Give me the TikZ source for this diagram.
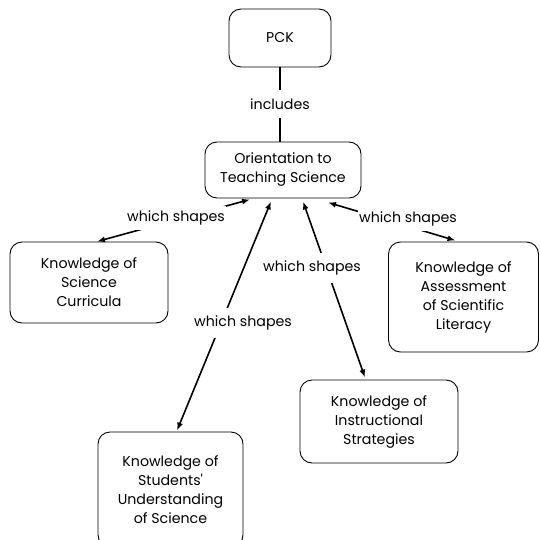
\documentclass[tikz,border=0pt]{standalone}
\usepackage{fontspec}
\setmainfont{Poppins}
\usetikzlibrary{arrows.meta,calc}
\begin{document}
\begin{tikzpicture}[x=1pt,y=-1pt,
  box/.style={draw, line width=0.9pt, rounded corners=12pt, align=center, inner sep=0pt,
    font=\fontsize{14.2}{19}\selectfont},
  lbl/.style={fill=white, inner xsep=1pt, inner ysep=5pt, font=\fontsize{14.2}{16}\selectfont},
  conn/.style={line width=1.6pt, {Latex[length=8pt,width=6pt]}-{Latex[length=8pt,width=6pt]}}]
\useasboundingbox (0,0) rectangle (539,540);
\node[box, minimum width=102pt, minimum height=58pt] (pck) at (280,38) {PCK};
\node[box, minimum width=156pt, minimum height=56pt] (ori) at (283,170) {Orientation to\\Teaching Science};
\node[box, minimum width=158pt, minimum height=81pt] (cur) at (89,282.5) {Knowledge of\\Science\\Curricula};
\node[box, minimum width=150pt, minimum height=110pt] (ass) at (463.5,297) {Knowledge of\\Assessment\\of Scientific\\Literacy};
\node[box, minimum width=158pt, minimum height=83pt] (ins) at (379,421.5) {Knowledge of\\Instructional\\Strategies};
\node[box, minimum width=145pt, minimum height=115pt] (stu) at (170.5,489.5) {Knowledge of\\Students\textquotesingle\\Understanding\\of Science};
% connectors
\draw[line width=2.5pt] (pck.south) -- (pck.south |- ori.north);
\draw[conn] ($(ori.south)+(-33,1)$) -- ($(cur.north)+(8,0)$);
\draw[conn] ($(ori.south)+(-12,3)$) -- ($(stu.north)+(6.5,-1)$);
\draw[conn] ($(ori.south)+(20,3)$) -- ($(ins.north)+(-14,-2)$);
\draw[conn] ($(ori.south)+(45,4)$) -- ($(ass.north)+(-8,-1)$);
% labels
\node[lbl, inner ysep=9pt] (l0) at (280,104) {includes};
\node[lbl] (l1) at (176,218) {which shapes};
\node[lbl, inner ysep=8pt] (l2) at (243,323) {which shapes};
\node[lbl, inner ysep=8pt] (l3) at (312,268) {which shapes};
\node[lbl] (l4) at (408,219) {which shapes};
\end{tikzpicture}
\end{document}
